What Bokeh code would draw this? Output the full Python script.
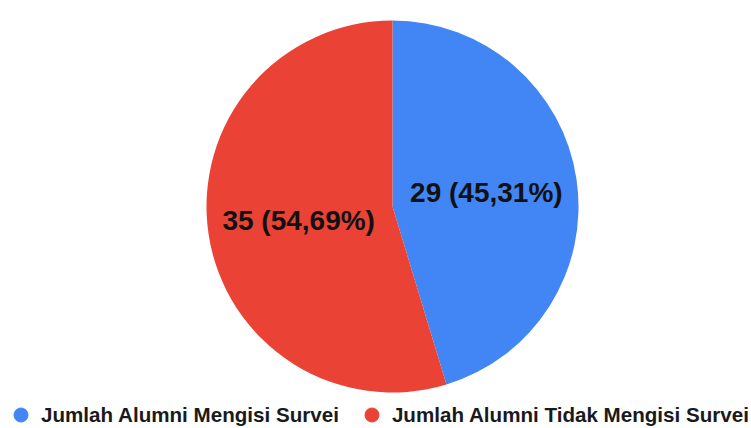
import math
from bokeh.plotting import figure
from bokeh.models import ColumnDataSource, Range1d, Legend, LegendItem
from bokeh.core.properties import value
from bokeh.embed import file_html
from bokeh.resources import INLINE

categories = ["Jumlah Alumni Mengisi Survei", "Jumlah Alumni Tidak Mengisi Survei"]
counts = [29, 35]
colors = ["#4285F4", "#EA4335"]

W, H = 751, 428
cx, cy, R = 392, 222, 186

total = sum(counts)
starts, ends, lx, ly, labels = [], [], [], [], []
cum = 0.0
for c in counts:
    frac = c / total
    a0 = math.pi / 2 - cum * 2 * math.pi
    a1 = math.pi / 2 - (cum + frac) * 2 * math.pi
    starts.append(a1)
    ends.append(a0)
    mid = (a0 + a1) / 2
    lx.append(cx + 0.51 * R * math.cos(mid))
    ly.append(cy + 0.51 * R * math.sin(mid))
    labels.append(f"{c} ({frac*100:.2f}%)".replace(".", ","))
    cum += frac

src = ColumnDataSource(dict(cat=categories, start=starts, end=ends, color=colors,
                            lx=lx, ly=ly, label=labels))

p = figure(width=W, height=H, output_backend="svg", toolbar_location=None,
           x_range=Range1d(0, W), y_range=Range1d(0, H), min_border=0)
p.axis.visible = False
p.grid.visible = False
p.outline_line_color = None
p.background_fill_color = "white"

p.wedge(x=cx, y=cy, radius=R, start_angle="start", end_angle="end",
        fill_color="color", line_color=None, source=src)
p.text(x="lx", y="ly", text="label", source=src, text_align="center",
       text_baseline="middle", text_font=value("Liberation Sans"),
       text_font_style="bold", text_font_size="28px", text_color="#111111")

items = []
for i, cat in enumerate(categories):
    r = p.scatter(x=[float("nan")], y=[float("nan")], marker="circle", size=14,
                  fill_color=colors[i], line_color=colors[i])
    items.append(LegendItem(label=cat, renderers=[r]))

legend = Legend(items=items, orientation="horizontal", location=(3, -4),
                glyph_width=35, glyph_height=35, label_standoff=3, spacing=15,
                padding=0, margin=0, border_line_alpha=0, background_fill_alpha=0,
                label_text_font="Liberation Sans", label_text_font_style="bold",
                label_text_font_size="20.6px", label_text_color="#1a1a1a",
                label_height=35)
p.add_layout(legend)

open("out.html", "w").write(file_html(p, INLINE))
